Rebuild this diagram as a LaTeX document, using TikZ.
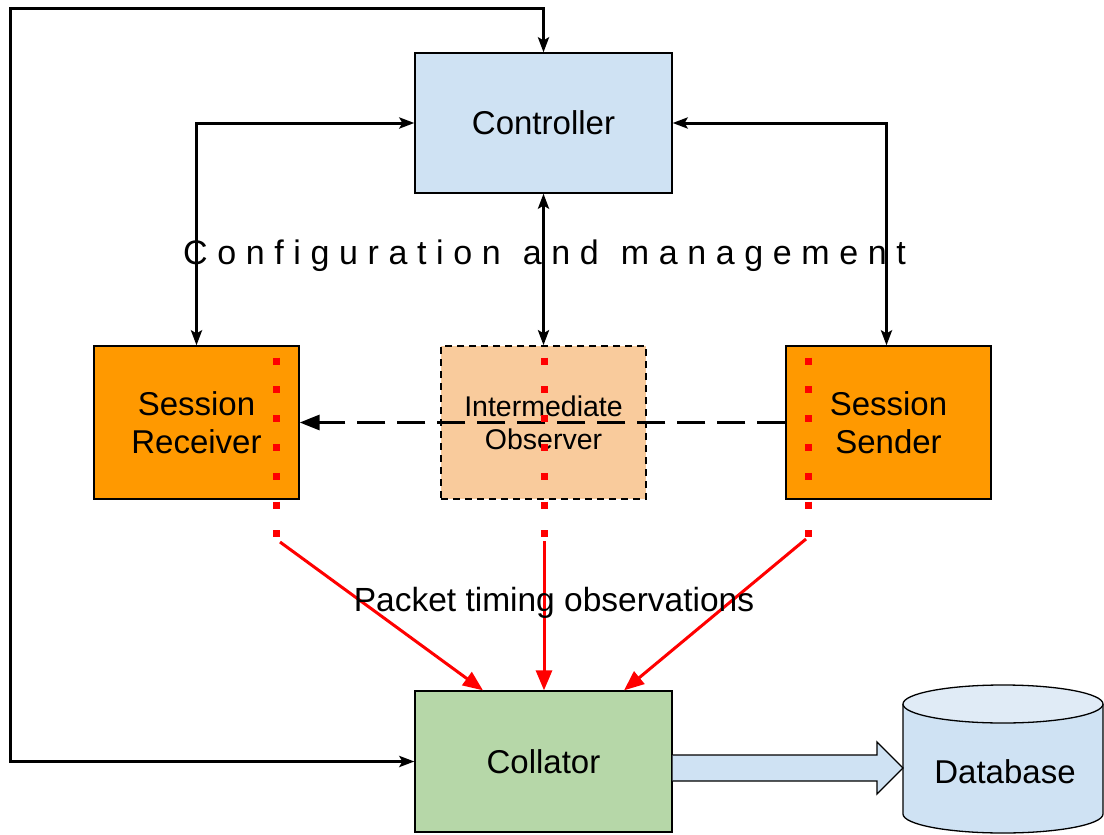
\documentclass[tikz,border=0pt]{standalone}
\usepackage{fontspec}
\setmainfont{Liberation Sans}
\usetikzlibrary{arrows.meta}
\definecolor{ctrlblue}{HTML}{CFE2F3}
\definecolor{dbtop}{HTML}{E0EBF6}
\definecolor{sessorange}{HTML}{FF9900}
\definecolor{obspeach}{HTML}{F9CB9C}
\definecolor{collgreen}{HTML}{B6D7A8}
\definecolor{pureRed}{HTML}{FF0000}
\begin{document}
\begin{tikzpicture}[x=1pt,y=-1pt,
  bigfont/.style={font=\fontsize{33}{38}\selectfont},
  box/.style={draw=black, line width=1.3pt, minimum width=205pt, minimum height=153pt, inner sep=0pt, align=center, bigfont},
  bigbox/.style={box, minimum width=257pt, minimum height=140pt},
  conn/.style={line width=3pt, {Stealth[length=15pt,width=11pt,inset=3pt]}-{Stealth[length=15pt,width=11pt,inset=3pt]}},
  reddots/.style={draw=pureRed, line width=7pt, dash pattern=on 7pt off 21.83pt},
  redarrow/.style={draw=pureRed, line width=3pt, -{Triangle[length=20pt,width=16pt]}},
  dasharrow/.style={line width=3pt, dash pattern=on 28pt off 12pt, -{Triangle[length=20pt,width=15pt]}},
  fatarrow/.style={draw=black, line width=1.3pt, fill=ctrlblue, line join=miter}
]
\useasboundingbox (0,0) rectangle (1104,835);

% boxes
\node[bigbox, fill=ctrlblue] (ctrl) at (543.5,123) {Controller};
\node[box, fill=sessorange] (recv) at (196.5,422.5) {Session\\Receiver};
\node[box, fill=obspeach, line width=1.6pt, dash pattern=on 7pt off 5pt, font=\fontsize{28.5}{33}\selectfont] (obs) at (543.5,422.5) {Intermediate\\Observer};
\node[box, fill=sessorange] (send) at (888.5,422.5) {Session\\Sender};
\node[bigbox, fill=collgreen, minimum height=141pt] (coll) at (543.5,761.5) {Collator};

% database cylinder
\fill[ctrlblue] (903,704) -- (903,814) arc[start angle=180, end angle=360, x radius=100pt, y radius=19pt] -- (1103,704) -- cycle;
\draw[line width=1.3pt] (903,704) -- (903,814) arc[start angle=180, end angle=360, x radius=100pt, y radius=19pt] -- (1103,704);
\draw[line width=1.3pt, fill=dbtop] (1003,704) ellipse [x radius=100pt, y radius=19pt];
\node[bigfont, inner sep=0pt] (db) at (1005,772) {Database};

% fat arrow collator -> database
\coordinate (fa) at (coll.east |- 0,768);
\draw[fatarrow] ([yshift=13pt]fa) -- (877,755) -- (877,742) -- (903,768) -- (877,794) -- (877,781) -- ([yshift=-13pt]fa);

% control connectors
\coordinate (lt) at (10,8);
\draw[conn] (coll.west) -| (lt) -| (ctrl.north);
\draw[conn] (recv.north) |- (ctrl.west);
\draw[conn] (ctrl.east) -| ([xshift=-2pt]send.north);
\draw[conn] (ctrl.south) -- (obs.north);

\node[font=\fontsize{34}{38}\selectfont, inner sep=0pt, anchor=base west] (cfg) at (183,264) {\addfontfeature{LetterSpace=28.3}Configuration\hspace{22pt}and\hspace{22pt}management};

% dashed packet path
\draw[dasharrow] (send.west) -- (recv.east);

% red dotted observation points
\coordinate (rt) at (276,357.5); \coordinate (rb) at (276,537.5);
\coordinate (ot) at (544,357.5); \coordinate (ob) at (544,537.5);
\coordinate (st) at (808,357.5); \coordinate (sb) at (808,537.5);
\draw[reddots] (rt) -- (rb);
\draw[reddots] (ot) -- (ob);
\draw[reddots] (st) -- (sb);

\coordinate (ra) at (280,542);
\coordinate (oa) at (544,541);
\coordinate (sa) at (806,539);
\draw[redarrow] (ra) -- ([xshift=-60.5pt]coll.north);
\draw[redarrow] (oa) -- (coll.north -| oa);
\draw[redarrow] (sa) -- ([xshift=80.5pt]coll.north);

\node[font=\fontsize{33.5}{38}\selectfont, inner sep=0pt] (pto) at (554,603) {Packet timing observations};
\end{tikzpicture}
\end{document}
